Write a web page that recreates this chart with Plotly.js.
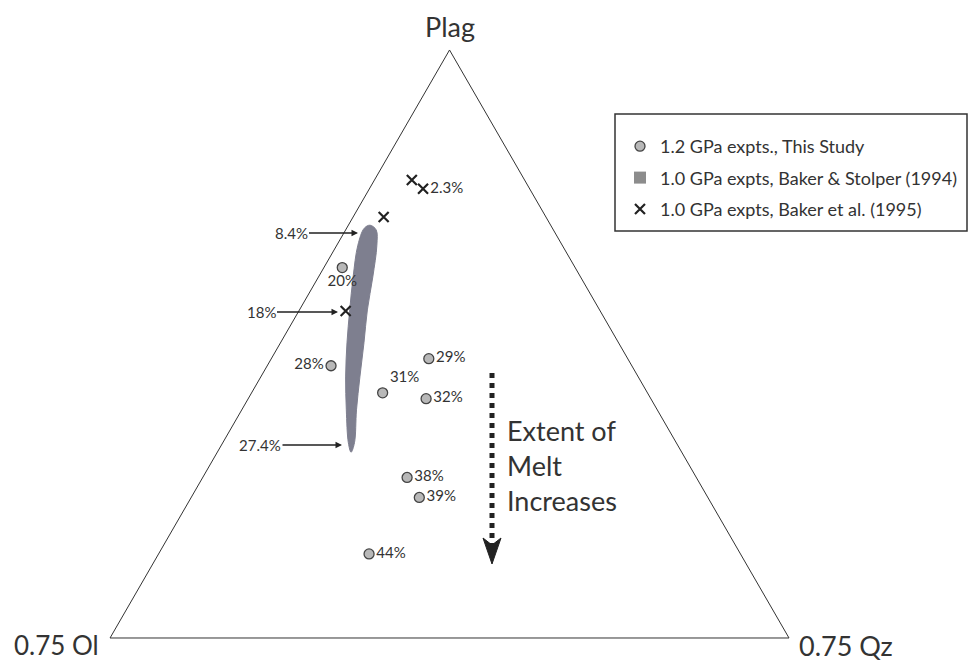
<!DOCTYPE html>
<html><head><meta charset="utf-8">
<script src="https://cdn.plot.ly/plotly-3.0.1.min.js"></script>
<style>html,body{margin:0;padding:0;background:#fff}</style>
</head><body><div id="chart" style="width:969px;height:664px"></div>
<script>
// 1.2 GPa experiments, this study (Plag, Ol, Qz), % melting
const studyPlag = [63.0, 46.3, 47.5, 41.7, 40.7, 27.3, 23.9, 14.3];
const studyOl   = [34.3, 44.3, 29.3, 39.0, 33.1, 42.6, 42.5, 54.7];
const studyQz   = [ 2.7,  9.4, 23.2, 19.3, 26.2, 30.1, 33.6, 31.0];
const studyLabels = ['20%', '28%', '29%', '31%', '32%', '38%', '39%', '44%'];

// 1.0 GPa experiments, Baker et al. (1995)
const bakerPlag = [77.9, 76.4, 71.6, 55.6];
const bakerOl   = [16.6, 15.7, 23.9, 37.5];
const bakerQz   = [ 5.5,  7.9,  4.5,  6.9];
const bakerLabels = ['', '2.3%', '', ''];

// 1.0 GPa experiments, Baker & Stolper (1994): outline of the field
const bsPlag = [69.7, 66.8, 61.4, 55.8, 50.2, 44.4, 38.8, 33.2, 31.6, 33.2, 38.8, 44.4, 50.2, 55.8, 61.4, 66.8, 69.4, 70.2, 69.7];
const bsOl   = [27.7, 30.1, 33.5, 36.8, 40.0, 43.1, 45.8, 48.3, 48.7, 47.4, 44.3, 41.0, 37.5, 34.2, 30.6, 27.3, 26.1, 26.6, 27.7];
const bsQz   = [ 2.6,  3.1,  5.1,  7.4,  9.8, 12.5, 15.4, 18.5, 19.7, 19.4, 16.9, 14.6, 12.3, 10.0,  8.0,  5.9,  4.5,  3.2,  2.6];

const legendNames = ['1.2 GPa expts., This Study', '1.0 GPa expts, Baker & Stolper (1994)', '1.0 GPa expts, Baker et al. (1995)'];
const apexLabels = ['Plag', '0.75 Ol', '0.75 Qz'];
const fieldLabels = ['8.4%', '18%', '27.4%'];
const meltNote = 'Extent of<br>Melt<br>Increases';

const FONT = 'Lato, "Open Sans", sans-serif';
const INK = '#333333';
const studyTextPos = ['bottom center', 'middle left', 'middle right', 'top right', 'middle right', 'middle right', 'middle right', 'middle right'];

const traces = [
  {
    type: 'scatterternary', mode: 'lines', name: legendNames[1], showlegend: false,
    a: bsPlag, b: bsOl, c: bsQz, fill: 'toself', fillcolor: '#7e7f8f',
    line: {color: '#7e7f8f', width: 1, shape: 'spline'}, hoverinfo: 'skip'
  },
  {
    type: 'scatterternary', mode: 'markers+text', name: legendNames[0], legendrank: 1, legendgroup: 'g1',
    a: studyPlag, b: studyOl, c: studyQz, text: studyLabels, textposition: studyTextPos,
    textfont: {family: FONT, size: 15, color: INK},
    marker: {symbol: 'circle', size: 10, color: '#b8b8b8', line: {color: '#444', width: 1.3}}
  },
  {
    type: 'scatterternary', mode: 'markers', name: legendNames[1], legendrank: 2, legendgroup: 'g2',
    a: [null], b: [null], c: [null],
    marker: {symbol: 'square', size: 12, color: '#8c8c8c'}
  },
  {
    type: 'scatterternary', mode: 'markers+text', name: legendNames[2], legendrank: 3, legendgroup: 'g3',
    a: bakerPlag, b: bakerOl, c: bakerQz, text: bakerLabels, textposition: 'middle right',
    textfont: {family: FONT, size: 15, color: INK},
    marker: {symbol: 'x-thin', size: 10, color: '#222', line: {color: '#222', width: 2.2}}
  }
];

const axisStyle = {showline: true, linecolor: INK, linewidth: 1, showgrid: false, ticks: '', showticklabels: false, title: {text: ''}};

function ann(text, x, y, opts) {
  return Object.assign({text: text, x: x, y: y, xref: 'paper', yref: 'paper', showarrow: false,
    xanchor: 'center', yanchor: 'middle',
    font: {family: FONT, size: 15, color: INK}}, opts || {});
}
function arrowAnn(text, hx, hy, dx) {
  return ann(text, hx / 969, 1 - hy / 664, {showarrow: true, ax: dx, ay: 0, arrowhead: 2, arrowsize: 1,
    arrowwidth: 1.3, arrowcolor: '#222', standoff: 0});
}

const layout = {
  width: 969, height: 664,
  margin: {l: 0, r: 0, t: 0, b: 0},
  paper_bgcolor: '#fff',
  showlegend: true,
  hovermode: false,
  ternary: {
    sum: 100,
    domain: {x: [0.10, 0.8278], y: [0.03916, 0.92470]},
    bgcolor: 'rgba(0,0,0,0)',
    aaxis: axisStyle, baxis: axisStyle, caxis: axisStyle
  },
  legend: {
    x: 620 / 969, y: 1 - 128 / 664, xanchor: 'left', yanchor: 'top',
    bgcolor: 'rgba(0,0,0,0)', borderwidth: 0,
    font: {family: FONT, size: 18, color: INK}, itemsizing: 'trace',
    traceorder: 'grouped', tracegroupgap: 5
  },
  shapes: [
    {type: 'rect', xref: 'paper', yref: 'paper', x0: 615 / 969, x1: 967 / 969, y0: 1 - 231 / 664, y1: 1 - 114 / 664,
      line: {color: INK, width: 1.5}},
    {type: 'line', xref: 'paper', yref: 'paper', x0: 492 / 969, x1: 492 / 969, y0: 1 - 373 / 664, y1: 1 - 545 / 664,
      line: {color: '#222', width: 5, dash: 'dot'}},
    {type: 'path', xref: 'paper', yref: 'paper',
      path: 'M' + (483 / 969) + ',' + (1 - 538 / 664) + ' L' + (492 / 969) + ',' + (1 - 545 / 664) + ' L' + (501 / 969) + ',' + (1 - 538 / 664) + ' L' + (492 / 969) + ',' + (1 - 564 / 664) + ' Z',
      fillcolor: '#222', line: {color: '#222', width: 1}}
  ],
  annotations: [
    ann(apexLabels[0], 450 / 969, 1 - 26 / 664, {font: {family: FONT, size: 27, color: INK}}),
    ann(apexLabels[1], 56 / 969, 1 - 645 / 664, {font: {family: FONT, size: 26, color: INK}}),
    ann(apexLabels[2], 846 / 969, 1 - 645 / 664, {font: {family: FONT, size: 27, color: INK}}),
    arrowAnn(fieldLabels[0], 358, 233, -67),
    arrowAnn(fieldLabels[1], 338, 312, -77),
    arrowAnn(fieldLabels[2], 342, 445, -82),
    ann(meltNote, 505 / 969, 1 - 465 / 664, {xanchor: 'left', yanchor: 'middle', align: 'left',
      font: {family: FONT, size: 27, color: INK}})
  ]
};

Plotly.newPlot('chart', traces, layout, {displayModeBar: false, staticPlot: true});
</script></body></html>
